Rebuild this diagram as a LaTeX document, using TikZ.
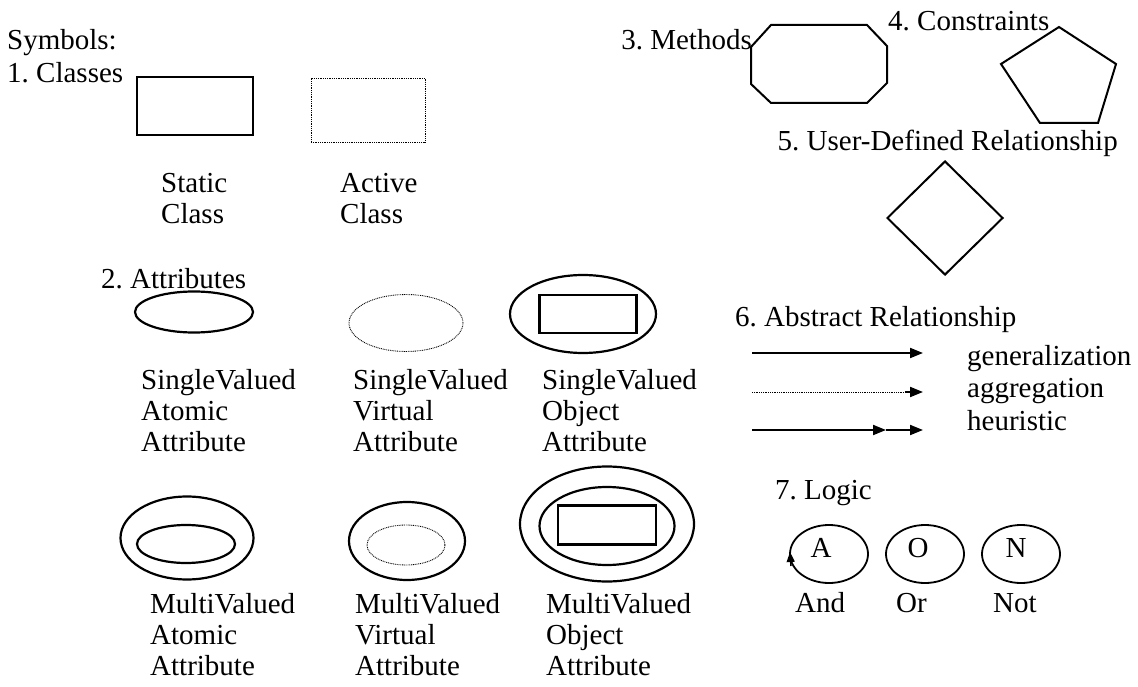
\documentclass[tikz,border=0pt]{standalone}
\usepackage{fontspec}
\setmainfont{Liberation Serif}
\usetikzlibrary{arrows.meta,shapes.geometric}
\frenchspacing
\begin{document}
\begin{tikzpicture}[x=1pt,y=-1pt,line join=miter,
  txt/.style={inner sep=0pt,anchor=base west,font=\fontsize{29}{31}\selectfont},
  lbl/.style={inner sep=0pt,anchor=north west,align=left,font=\fontsize{29}{31}\selectfont},
  boldbox/.style={draw,rectangle,line width=2.4pt,inner sep=0pt},
  dotbox/.style={draw,rectangle,line width=0.9pt,dash pattern=on 0.9pt off 0.9pt,inner sep=0pt},
  boldell/.style={draw,ellipse,line width=2.2pt,inner sep=0pt},
  dotell/.style={draw,ellipse,line width=0.9pt,dash pattern=on 0.9pt off 0.9pt,inner sep=0pt},
  logicell/.style={draw,ellipse,line width=1.8pt,inner sep=0pt,minimum width=78pt,minimum height=58pt},
  boldline/.style={line width=2pt},
  arr/.style={-{Triangle[length=13pt,width=10pt]}},
  dotline/.style={line width=0.9pt,dash pattern=on 0.9pt off 0.9pt}]
\useasboundingbox (0,0) rectangle (1138,687);

% ---- headings on the left
\node[txt] (symbols) at (7,50) {Symbols:};
\node[txt] (classes) at (7,83) {1. Classes};

% ---- 1. classes
\node[boldbox,minimum width=116pt,minimum height=58pt] (static) at (195,106) {};
\node[dotbox,minimum width=114pt,minimum height=64pt] (active) at (368,110) {};
\node[lbl] (staticlbl) at (161,173) {Static\\Class};
\node[lbl] (activelbl) at (340,173) {Active\\Class};

% ---- 2. attributes
\node[txt] (attributes) at (101,288) {2. Attributes};

% single valued
\node[boldell,minimum width=118pt,minimum height=41pt] (sva) at (194,312) {};
\node[dotell,minimum width=114pt,minimum height=57pt] (svv) at (406,323) {};
\node[boldell,minimum width=146pt,minimum height=78pt] (svo) at (583,314) {};
\node[boldbox,minimum width=97pt,minimum height=38pt] (svorect) at (588,314) {};
\node[lbl] (svalbl) at (141,369) {SingleValued\\Atomic\\Attribute};
\node[lbl] (svvlbl) at (353,369) {SingleValued\\Virtual\\Attribute};
\node[lbl] (svolbl) at (542,369) {SingleValued\\Object\\Attribute};

% multi valued
\node[boldell,minimum width=133pt,minimum height=83pt] (mva) at (187,538) {};
\node[boldell,minimum width=98pt,minimum height=38pt] (mvain) at (186,544) {};
\node[boldell,minimum width=116pt,minimum height=78pt] (mvv) at (407,541) {};
\node[dotell,minimum width=78pt,minimum height=40pt] (mvvin) at (406,545) {};
\node[boldell,minimum width=174pt,minimum height=115pt] (mvo) at (607,524) {};
\node[boldell,minimum width=135pt,minimum height=78pt] (mvomid) at (607,526) {};
\node[boldbox,minimum width=98pt,minimum height=39pt] (mvorect) at (607,525) {};
\node[lbl] (mvalbl) at (150,593) {MultiValued\\Atomic\\Attribute};
\node[lbl] (mvvlbl) at (355,593) {MultiValued\\Virtual\\Attribute};
\node[lbl] (mvolbl) at (546,593) {MultiValued\\Object\\Attribute};

% ---- 3. methods
\node[txt,anchor=base east] (methods) at (752,50) {3. Methods};
\draw[boldline] (771,25) -- (867,25) -- (887,46) -- (887,83) -- (867,103)
  -- (771,103) -- (751,84) -- (751,47) -- cycle;

% ---- 4. constraints
\node[txt] (constraints) at (888,31) {4. Constraints};
\draw[boldline] (1059,27) -- (1116,64) -- (1098,123) -- (1040,123) -- (1001,64) -- cycle;

% ---- 5. user-defined relationship
\node[txt,anchor=base east] (userrel) at (1118,151) {5. User-Defined Relationship};
\node[draw,diamond,line width=2pt,inner sep=0pt,minimum width=116pt,minimum height=114pt] (udr) at (945,218) {};

% ---- 6. abstract relationship
\node[txt] (abstract) at (735,326) {6. Abstract Relationship};
\coordinate (g1) at (752,353);  \coordinate (g2) at (923,353);
\coordinate (a1) at (752,392);  \coordinate (am) at (905,392);  \coordinate (a2) at (923,392);
\coordinate (h1) at (752,430);  \coordinate (hm) at (886,430);  \coordinate (h2) at (923,430);
\draw[boldline,arr] (g1) -- (g2);
\draw[dotline] (a1) -- (am);
\draw[boldline,arr] (am) -- (a2);
\draw[boldline,arr] (h1) -- (hm);
\draw[boldline,arr] (hm) -- (h2);
\node[txt] (gen) at (967,365) {generalization};
\node[txt] (agg) at (967,397) {aggregation};
\node[txt] (heu) at (967,430) {heuristic};

% ---- 7. logic
\node[txt] (logic) at (775,499) {7. Logic};
\node[logicell] (and) at (829,554) {};
\node[logicell] (or) at (925,554) {};
\node[logicell] (not) at (1021,554) {};
\node[txt,anchor=base] (la) at (821,557) {A};
\node[txt,anchor=base] (lo) at (918,557) {O};
\node[txt,anchor=base] (ln) at (1016,557) {N};
\coordinate (andtail) at (791,566);
\coordinate (andtip) at (790,552);
\draw[line width=1.5pt,-{Triangle[length=10pt,width=8pt]}] (andtail) -- (andtip);
\node[txt] (andlbl) at (795,612) {And};
\node[txt] (orlbl) at (896,612) {Or};
\node[txt] (notlbl) at (993,612) {Not};
\end{tikzpicture}
\end{document}
